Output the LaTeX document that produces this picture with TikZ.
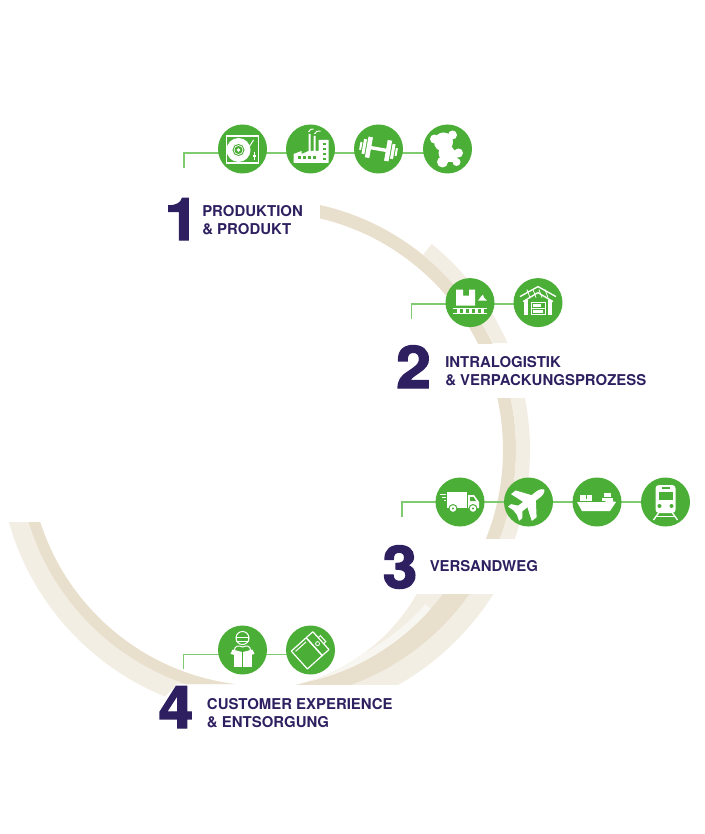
\documentclass[tikz,border=0pt]{standalone}
\usepackage{fontspec}
\setmainfont{TeX Gyre Heros}
\newfontfamily\digitfont[BoldFeatures={FakeBold=2.5,FakeStretch=1.06}]{TeX Gyre Heros}
\usetikzlibrary{positioning,backgrounds}
\definecolor{bandlight}{HTML}{F3EEE3}
\definecolor{banddark}{HTML}{E9DFCD}
\definecolor{bandstrip}{HTML}{F8F6F0}
\definecolor{ballgreen}{HTML}{4BAE37}
\definecolor{linkgreen}{HTML}{7FCB70}
\definecolor{titleviolet}{HTML}{2E2060}
\tikzset{
  iconball/.style={circle,fill=ballgreen,minimum size=36.75pt,inner sep=0pt},
  link/.style={draw=linkgreen,line width=1.1pt},
  digit/.style={font=\digitfont\bfseries\fontsize{44}{44}\selectfont,text=titleviolet,anchor=base,inner sep=0pt},
  title/.style={font=\bfseries\fontsize{11.2}{13.5}\selectfont,text=titleviolet,align=left,anchor=west,inner sep=0pt},
  ifill/.style={fill=white,draw=none},
  iline/.style={draw=white,line width=0.75pt},
  ihole/.style={fill=ballgreen,draw=none}
}
% icons, local coordinates in px around the ball centre
\newcommand{\iconTurntable}[1]{\begin{scope}[shift={(#1)}]
  \draw[white,line width=1.1pt] (-16,-13) rectangle (16,14);
  \fill[ifill] (-4,1) circle (12);
  \draw[ballgreen,line width=0.7pt] (-4,1) circle (5.5);
  \fill[ihole] (-4,1) circle (4);
  \fill[ifill] (-4,1) circle (1.8);
  \draw[iline] (11,-9) -- (3,4);
  \draw[iline] (12,3) -- (12,11);
  \fill[ifill] (10.5,6) rectangle (13.5,8);
\end{scope}}
\newcommand{\iconFactory}[1]{\begin{scope}[shift={(#1)}]
  \fill[ifill] (-17,14) -- (-17,5) -- (-9,2) -- (-9,5) -- (-2,2) -- (-2,-15) -- (0,-15) -- (0,2) -- (3,2) -- (3,-13) -- (5,-13) -- (5,2) -- (8,2) -- (8,-9) -- (18,-9) -- (18,14) -- cycle;
  \foreach \px in {-13,-8,-3,2}
    \fill[ihole] (\px,7) rectangle +(3,3);
  \foreach \py in {-6,-1,4,9}
    \fill[ihole] (12,\py) rectangle +(3,2.5);
  \draw[iline] (-2,-17) .. controls (-1,-20) and (1,-20) .. (3,-20);
  \draw[iline] (4,-15) .. controls (5,-18) and (7,-18) .. (10,-18);
\end{scope}}
\newcommand{\iconDumbbell}[1]{\begin{scope}[shift={(#1)},rotate=-10]
  \fill[ifill] (-9,-1.7) rectangle (9,1.7);
  \foreach \sx in {-1,1} {
    \fill[ifill] (\sx*7.5,-10.5) rectangle (\sx*12,10.5);
    \fill[ifill] (\sx*13,-7.5) rectangle (\sx*16,7.5);
    \fill[ifill] (\sx*17,-4) rectangle (\sx*19,4);
  }
\end{scope}}
\newcommand{\iconTeddy}[1]{\begin{scope}[shift={(#1)}]
  \fill[ifill] (5,-14) circle (4.5);
  \fill[ifill] (-13,-10) circle (4.5);
  \fill[ifill] (-4,-7) circle (9.5);
  \fill[ifill] (-1,4) circle (8);
  \fill[ifill] (-5,13) circle (5.5);
  \fill[ifill] (11,4) circle (4.5);
  \fill[ifill] (9,13) circle (4);
  \fill[ifill] (1,-3) -- (11,4) -- (9,13) -- (-5,13) -- cycle;
\end{scope}}
\newcommand{\iconConveyor}[1]{\begin{scope}[shift={(#1)}]
  \fill[ifill] (-14,3) -- (-14,-13) -- (-7,-13) -- (-7,-7) -- (-1,-7) -- (-1,-13) -- (5,-13) -- (5,3) -- cycle;
  \fill[ifill] (8,-2) -- (11,-6) -- (13,-8) -- (14,-5) -- (17,-2) -- cycle;
  \draw[iline] (-17,5.5) -- (17,5.5);
  \draw[iline] (-17,11) -- (17,11);
  \foreach \px in {-12,-6,0,6,12}
    \fill[ifill] (\px-1.5,6) rectangle (\px+1.5,11);
\end{scope}}
\newcommand{\iconWarehouse}[1]{\begin{scope}[shift={(#1)}]
  \draw[white,line width=1pt] (-18,-6) -- (0,-16) -- (18,-6);
  \draw[white,line width=1pt] (-15,-1) -- (0,-10) -- (15,-1);
  \foreach \px in {-11,-5,1,7}
    \draw[white,line width=0.6pt] (\px,-13) -- (\px+3,-5);
  \fill[ifill] (-14,-3) rectangle (-10,12);
  \fill[ifill] (10,-3) rectangle (14,12);
  \draw[iline] (-7,0) rectangle (7,12);
  \draw[iline] (-7,5.5) -- (7,5.5);
  \fill[ifill] (-5,1.5) rectangle (3,4);
  \fill[ifill] (-5,7.5) rectangle (5,10.5);
\end{scope}}
\newcommand{\iconTruck}[1]{\begin{scope}[shift={(#1)}]
  \fill[ifill] (-13,-10) rectangle (7,6);
  \fill[ifill] (8,-7) -- (14,-7) -- (19,0) -- (19,6) -- (8,6) -- cycle;
  \fill[ihole] (10,-5) -- (13.5,-5) -- (16,-1) -- (10,-1) -- cycle;
  \draw[iline] (-20,-8) -- (-14,-8);
  \draw[iline] (-18,-5) -- (-14,-5);
  \draw[iline] (-16,-2) -- (-14,-2);
  \foreach \px in {-7,13} {
    \fill[ihole] (\px,6.5) circle (4.5);
    \fill[ifill] (\px,6.5) circle (3.3);
    \fill[ihole] (\px,6.5) circle (1.2);
  }
\end{scope}}
\newcommand{\iconPlane}[1]{\begin{scope}[shift={(#1)},rotate=38]
  \fill[ifill] (-17,-3.5) -- (13,-3.5) .. controls (17,-3.5) and (20,-1) .. (20,0) .. controls (20,1) and (17,3.5) .. (13,3.5) -- (-17,3.5) -- cycle;
  \foreach \sy in {-1,1} {
    \fill[ifill] (7,\sy*3) -- (-3,\sy*17) -- (-9,\sy*17) -- (-4,\sy*3) -- cycle;
    \fill[ifill] (-10,\sy*3) -- (-15,\sy*9) -- (-19,\sy*9) -- (-17,\sy*3) -- cycle;
  }
\end{scope}}
\newcommand{\iconShip}[1]{\begin{scope}[shift={(#1)}]
  \fill[ifill] (-20,0) -- (8,0) -- (10,-2) -- (19,0) -- (13,9) -- (-15,9) -- cycle;
  \fill[ifill] (-17,-7) rectangle (-11,-3.5);
  \fill[ifill] (-10.5,-7) rectangle (-5,-3.5);
  \fill[ifill] (-17,-3) rectangle (-5,-0.7);
  \fill[ifill] (5,-4) rectangle (16,-0.7);
  \fill[ifill] (7,-9) rectangle (14,-4.7);
\end{scope}}
\newcommand{\iconTrain}[1]{\begin{scope}[shift={(#1)}]
  \fill[ifill,rounded corners=2.5pt] (-10,-17) rectangle (10,11);
  \fill[ihole] (-7,-10) rectangle (7,-2);
  \fill[ihole] (-4,-15) rectangle (4,-13);
  \fill[ihole] (-6,4) circle (2);
  \fill[ihole] (6,4) circle (2);
  \draw[white,line width=1pt] (-7,11) -- (-12,18);
  \draw[white,line width=1pt] (7,11) -- (12,18);
  \draw[iline] (-9,14.5) -- (9,14.5);
\end{scope}}
\newcommand{\iconReceiver}[1]{\begin{scope}[shift={(#1)}]
  \draw[iline] (0,-12) circle (6.5);
  \draw[iline] (-6,-13) rectangle (6,-9);
  \draw[iline] (-8,0) .. controls (-8,-4) and (-4,-5) .. (0,-3) .. controls (4,-5) and (8,-4) .. (8,0);
  \fill[ifill] (-9,2) rectangle (-0.5,17);
  \fill[ifill] (0.5,2) rectangle (9,17);
  \fill[ifill] (-10,-0.5) -- (-0.5,2) -- (-3,6) -- (-12,4) -- cycle;
  \fill[ifill] (10,-0.5) -- (0.5,2) -- (3,6) -- (12,4) -- cycle;
\end{scope}}
\newcommand{\iconParcel}[1]{\begin{scope}[shift={(#1)},rotate=42]
  \draw[white,line width=0.9pt,line join=round] (-15,-12) rectangle (5,12);
  \draw[white,line width=0.9pt,line join=round] (5,-12) rectangle (14,12);
  \draw[iline] (-12,-9) -- (2,-9);
  \draw[iline] (14,-4) -- (17,-4) -- (17,4) -- (14,4);
  \draw[white,line width=0.6pt] (9.5,0) circle (2);
\end{scope}}
\begin{document}
\begin{tikzpicture}[x=0.75pt,y=-0.75pt]
\useasboundingbox (0,0) rectangle (704,834);

\coordinate (KneeA) at (184,153);
\coordinate (FootA) at (184,168);
\coordinate (KneeB) at (411.7,304);
\coordinate (FootB) at (411.7,319);
\coordinate (KneeC) at (402,502);
\coordinate (FootC) at (402,517);
\coordinate (KneeD) at (183.7,654.7);
\coordinate (FootD) at (183.7,669);

\node[iconball] (Turntable) at (242.5,149) {};
\node[iconball] (Factory) at (310.5,149) {};
\node[iconball] (Dumbbell) at (378.5,149) {};
\node[iconball] (Teddy) at (447.5,149) {};
\node[iconball] (Conveyor) at (470,302.6) {};
\node[iconball] (Warehouse) at (538,302.6) {};
\node[iconball] (Truck) at (460,502) {};
\node[iconball] (Plane) at (528.5,502) {};
\node[iconball] (Ship) at (597,502) {};
\node[iconball] (Train) at (665.5,502) {};
\node[iconball] (Receiver) at (242.5,650) {};
\node[iconball] (Parcel) at (310.5,650) {};

\begin{pgfonlayer}{background}
% bands
\begin{scope}
  \clip (320,150) rectangle (620,343);
  \fill[banddark,even odd rule] (265,450) circle (251) (265,450) circle (238);
\end{scope}
\begin{scope}
  \clip (265,450) -- (515,141) -- (620,141) -- (620,343) -- (265,343) -- cycle;
  \fill[bandlight,even odd rule] (265,450) circle (265) (265,450) circle (251);
\end{scope}
\begin{scope}
  \clip (320,398) rectangle (620,538);
  \fill[banddark,even odd rule] (265,450) circle (251) (265,450) circle (238);
  \fill[bandlight,even odd rule] (265,450) circle (265) (265,450) circle (251);
\end{scope}
\begin{scope}[even odd rule]
  \clip (260,594) rectangle (620,684);
  \clip (-200,-200) rectangle (900,1000) (252,500) circle (190);
  \fill[bandlight] (265,450) circle (270);
  \fill[banddark] (265,450) circle (250);
  \fill[bandlight] (256.6,455.4) circle (232);
  \clip (256.6,455.4) -- (516,684) -- (310,684) -- (310,500) -- cycle;
  \fill[bandstrip] (256.6,455.4) circle (232) (256.6,455.4) circle (225);
\end{scope}
\begin{scope}[even odd rule]
  \clip (0,522) -- (260,522) -- (260,684) -- (177,684) -- (160,702) -- (0,702) -- cycle;
  \clip (-200,-200) rectangle (900,1000) (265,450) circle (236);
  \fill[bandlight] (265,450) circle (266);
  \fill[banddark] (265,450) circle (247);
\end{scope}
\draw[link] (FootA) -- (KneeA) -- (Turntable.center |- KneeA) -- (Teddy.center |- KneeA);
\draw[link] (FootB) -- (KneeB) -- (Warehouse.center |- KneeB);
\draw[link] (FootC) -- (KneeC) -- (Train.center |- KneeC);
\draw[link] (FootD) -- (KneeD) -- (Parcel.center |- KneeD);
\end{pgfonlayer}

\iconTurntable{Turntable.center}
\iconFactory{Factory.center}
\iconDumbbell{Dumbbell.center}
\iconTeddy{Teddy.center}
\iconConveyor{Conveyor.center}
\iconWarehouse{Warehouse.center}
\iconTruck{Truck.center}
\iconPlane{Plane.center}
\iconShip{Ship.center}
\iconTrain{Train.center}
\iconReceiver{Receiver.center}
\iconParcel{Parcel.center}

\node[digit] (DigitA) at (182,240) {1};
\node[digit] (DigitB) at (413.5,388) {2};
\node[digit] (DigitC) at (400,588) {3};
\node[digit] (DigitD) at (176,728) {4};

\node[title] (TitleA) at (202,220) {PRODUKTION\\\& PRODUKT};
\node[title] (TitleB) at (445,371.5) {INTRALOGISTIK\\\& VERPACKUNGSPROZESS};
\node[title] (TitleC) at (429.5,566.5) {VERSANDWEG};
\node[title] (TitleD) at (206.7,713.5) {CUSTOMER EXPERIENCE\\\& ENTSORGUNG};
\end{tikzpicture}
\end{document}
